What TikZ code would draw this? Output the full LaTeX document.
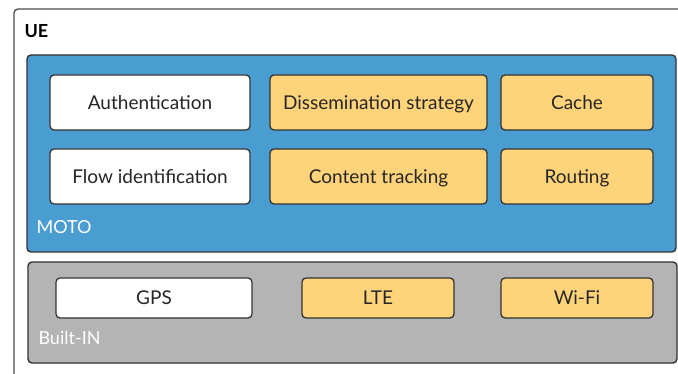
\documentclass[tikz,border=0pt]{standalone}
\usepackage{fontspec}
\setmainfont{Lato}
\definecolor{motoblue}{HTML}{4A9DD0}
\definecolor{modorange}{HTML}{FFD37A}
\definecolor{builtgray}{HTML}{B4B4B4}
\definecolor{edge}{HTML}{333333}
\begin{document}
\begin{tikzpicture}[x=1pt,y=-1pt,
  layer/.style={draw=edge,line width=1.4pt,rounded corners=4pt},
  module/.style={draw=edge,line width=1.3pt,rounded corners=4pt,font=\fontsize{19}{21}\selectfont,
    text=black!85,text height=15pt,text depth=1pt,inner sep=0pt},
  whitemod/.style={module,fill=white},
  orangemod/.style={module,fill=modorange}]
\useasboundingbox (0,0) rectangle (678,374);
\fill[white] (0,0) rectangle (678,374);
% user equipment frame, running past the page edges
\draw[draw=black!70,line width=1.4pt,rounded corners=4pt] (14,400) -- (14,9) -- (700,9);
\node[anchor=west,font=\bfseries\fontsize{18}{20}\selectfont] (ue) at (21,31) {UE};
% MOTO layer
\draw[layer,fill=motoblue] (27,55) rectangle (676,252);
\node[anchor=west,text=white,font=\fontsize{18}{20}\selectfont] (moto) at (33,227) {MOTO};
% built-in layer
\draw[layer,fill=builtgray] (28,262) rectangle (677,363);
\node[anchor=west,text=white,font=\fontsize{18}{20}\selectfont] (builtin) at (35,338) {Built-IN};
% MOTO modules
\node[whitemod,minimum width=200pt,minimum height=55pt] (auth) at (150,102.5) {Authentication};
\node[orangemod,minimum width=217pt,minimum height=55pt] (diss) at (378.5,102.5) {Dissemination strategy};
\node[orangemod,minimum width=152pt,minimum height=55pt] (cache) at (577,102.5) {Cache};
\node[whitemod,minimum width=200pt,minimum height=55pt] (flow) at (150,176.5) {Flow identification};
\node[orangemod,minimum width=217pt,minimum height=55pt] (track) at (378.5,176.5) {Content tracking};
\node[orangemod,minimum width=152pt,minimum height=55pt] (route) at (577,176.5) {Routing};
% built-in modules
\node[whitemod,minimum width=196pt,minimum height=40pt] (gps) at (154,298) {GPS};
\node[orangemod,minimum width=152pt,minimum height=40pt] (lte) at (378,298) {LTE};
\node[orangemod,minimum width=152pt,minimum height=40pt] (wifi) at (577,298) {Wi-Fi};
\end{tikzpicture}
\end{document}
